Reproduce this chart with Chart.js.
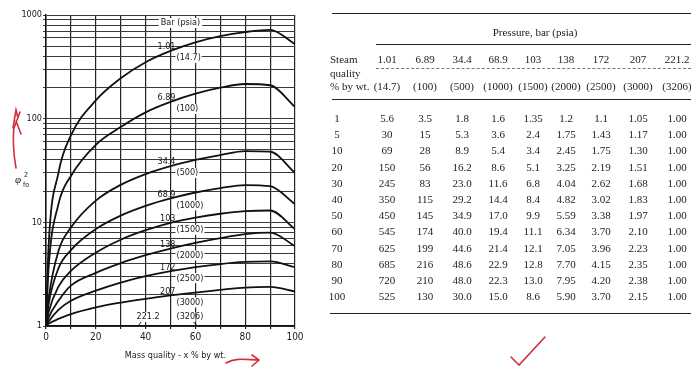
<!DOCTYPE html>
<html>
<head>
<meta charset="utf-8">
<script src="https://cdn.jsdelivr.net/npm/chart.js@4.4.1/dist/chart.umd.min.js"></script>
<style>
    body { margin: 0; background: #fff; }
    #wrap { position: relative; width: 691px; height: 370px; overflow: hidden; }
    #chart { position: absolute; left: 0; top: 0; }
    #table { position: absolute; left: 0; top: 0; width: 691px; height: 370px;
             font-family: "Liberation Serif", "Times New Roman", serif; font-size: 11px; color: #1c1c1c; }
    #table span { position: absolute; white-space: nowrap; transform: translate(-50%, -50%); }
    #table span.left { transform: translate(0, -50%); }
    #table .rule { position: absolute; height: 0; border-top: 1.5px solid #222; }
    #table .dash { position: absolute; height: 0; border-top: 1px dashed #777; }
</style>
</head>
<body>
<div id="wrap">
    <canvas id="chart" width="691" height="370"></canvas>
    <div id="table"></div>
</div>
<script>
// Pressure columns
const pressureBar = ['1.01', '6.89', '34.4', '68.9', '103', '138', '172', '207', '221.2'];
const pressurePsia = ['(14.7)', '(100)', '(500)', '(1000)', '(1500)', '(2000)', '(2500)', '(3000)', '(3206)'];

// Steam quality, % by wt. (table rows)
const qualities = [1, 5, 10, 20, 30, 40, 50, 60, 70, 80, 90, 100];

// phi^2_fo for each pressure, same order as qualities
const phi1_01 = ['5.6', '30', '69', '150', '245', '350', '450', '545', '625', '685', '720', '525'];
const phi6_89 = ['3.5', '15', '28', '56', '83', '115', '145', '174', '199', '216', '210', '130'];
const phi34_4 = ['1.8', '5.3', '8.9', '16.2', '23.0', '29.2', '34.9', '40.0', '44.6', '48.6', '48.0', '30.0'];
const phi68_9 = ['1.6', '3.6', '5.4', '8.6', '11.6', '14.4', '17.0', '19.4', '21.4', '22.9', '22.3', '15.0'];
const phi103 = ['1.35', '2.4', '3.4', '5.1', '6.8', '8.4', '9.9', '11.1', '12.1', '12.8', '13.0', '8.6'];
const phi138 = ['1.2', '1.75', '2.45', '3.25', '4.04', '4.82', '5.59', '6.34', '7.05', '7.70', '7.95', '5.90'];
const phi172 = ['1.1', '1.43', '1.75', '2.19', '2.62', '3.02', '3.38', '3.70', '3.96', '4.15', '4.20', '3.70'];
const phi207 = ['1.05', '1.17', '1.30', '1.51', '1.68', '1.83', '1.97', '2.10', '2.23', '2.35', '2.38', '2.15'];
const phi221_2 = ['1.00', '1.00', '1.00', '1.00', '1.00', '1.00', '1.00', '1.00', '1.00', '1.00', '1.00', '1.00'];

const allSeries = [phi1_01, phi6_89, phi34_4, phi68_9, phi103, phi138, phi172, phi207, phi221_2];

// every curve starts from phi^2 = 1 at zero quality
const originQuality = 0;
const originValue = 1;

// axis ticks
const yTickLabels = [1, 10, 100, 1000];
const xTickLabels = [0, 20, 40, 60, 80, 100];

// log grid: 1..9 in every decade
const yGrid = [];
yTickLabels.slice(0, -1).forEach(d => {
    for (let m = 1; m < 10; m++) yGrid.push(d * m);
});
yGrid.push(1000);

const sans = '"Liberation Sans Narrow", "DejaVu Sans Condensed", "Liberation Sans", sans-serif';
const ink = '#1a1a1a';
const red = '#d2303c';

const datasets = allSeries.map((s, i) => ({
    label: pressureBar[i],
    data: [{ x: originQuality, y: originValue }].concat(qualities.map((q, k) => ({ x: q, y: Number(s[k]) }))),
    borderColor: '#111',
    borderWidth: 1.8,
    pointRadius: 0,
    cubicInterpolationMode: 'monotone',
    fill: false
}));

// labels on the curves, white boxes, axis titles and the red pen marks
const annotations = {
    id: 'annotations',
    afterDatasetsDraw(chart) {
        const { ctx, scales: { x, y } } = chart;
        ctx.save();
        ctx.fillStyle = ink;
        ctx.font = '9px ' + sans;
        ctx.textBaseline = 'middle';

        const at50 = qualities.indexOf(50);
        const xp = x.getPixelForValue(50);
        for (let i = 0; i < 8; i++) {
            const yp = y.getPixelForValue(Number(allSeries[i][at50]));
            ctx.textAlign = 'right';
            ctx.fillText(pressureBar[i], xp + 5, yp - 4);
            const w = ctx.measureText(pressurePsia[i]).width;
            ctx.fillStyle = '#fff';
            ctx.fillRect(xp + 5, yp + 2, w + 2, 10);
            ctx.fillStyle = ink;
            ctx.textAlign = 'left';
            ctx.fillText(pressurePsia[i], xp + 6, yp + 7);
        }

        // 221.2 bar lies on the bottom axis
        const yb = y.getPixelForValue(1);
        const xa = x.getPixelForValue(41);
        const xb = x.getPixelForValue(52);
        ctx.fillStyle = '#fff';
        ctx.fillRect(xa - 9, yb - 14, 18, 10);
        ctx.fillRect(xb, yb - 14, 20, 10);
        ctx.fillStyle = ink;
        ctx.textAlign = 'center';
        ctx.fillText(pressureBar[8], xa, yb - 9);
        ctx.textAlign = 'left';
        ctx.fillText(pressurePsia[8], xb + 1, yb - 9);
        ctx.strokeStyle = ink;
        ctx.lineWidth = 1;
        ctx.beginPath();
        ctx.moveTo(xa - 7, yb - 4); ctx.lineTo(xa - 10, yb);
        ctx.moveTo(xb + 18, yb - 4); ctx.lineTo(xb + 22, yb);
        ctx.stroke();

        // "Bar (psia)" heading
        const xh = x.getPixelForValue(54);
        const yh = y.getPixelForValue(1000) + 8;
        ctx.font = '9px ' + sans;
        const hw = ctx.measureText('Bar (psia)').width;
        ctx.fillStyle = '#fff';
        ctx.fillRect(xh - hw / 2 - 2, yh - 5, hw + 4, 10);
        ctx.fillStyle = ink;
        ctx.textAlign = 'center';
        ctx.fillText('Bar (psia)', xh, yh);

        // axis titles
        ctx.font = '9px ' + sans;
        ctx.fillText('Mass quality - x % by wt.', x.getPixelForValue(52), 356);
        ctx.font = 'italic 11px "Liberation Serif", serif';
        ctx.textAlign = 'left';
        ctx.fillText('\u03C6', 15, 180);
        ctx.font = '7px ' + sans;
        ctx.fillText('2', 24, 175);
        ctx.fillText('fo', 23, 185);

        // red pen marks
        ctx.strokeStyle = red;
        ctx.lineWidth = 1.6;
        ctx.lineCap = 'round';
        ctx.beginPath();
        ctx.moveTo(16, 168);
        ctx.quadraticCurveTo(12, 145, 14, 126);
        ctx.moveTo(13, 128); ctx.lineTo(16, 110); ctx.lineTo(18, 118);
        ctx.moveTo(20, 112); ctx.lineTo(14, 128);
        ctx.moveTo(16, 121); ctx.lineTo(21, 134);
        ctx.moveTo(226, 363);
        ctx.bezierCurveTo(236, 357, 248, 360, 259, 360);
        ctx.moveTo(252, 355); ctx.lineTo(259, 360); ctx.lineTo(252, 366);
        ctx.moveTo(511, 357); ctx.lineTo(519, 365); ctx.lineTo(545, 337);
        ctx.stroke();
        ctx.restore();
    }
};

new Chart(document.getElementById('chart'), {
    type: 'line',
    data: { datasets },
    options: {
        responsive: false,
        animation: false,
        layout: { padding: { top: 15, right: 396, left: 0, bottom: 0 } },
        plugins: { legend: { display: false }, tooltip: { enabled: false } },
        scales: {
            x: {
                type: 'linear',
                min: 0,
                max: 100,
                afterFit: s => { s.height = 44; },
                ticks: {
                    stepSize: 10,
                    autoSkip: false,
                    maxRotation: 0,
                    padding: 2,
                    color: ink,
                    font: { family: sans, size: 10 },
                    callback: v => xTickLabels.includes(v) ? v : ''
                },
                grid: { color: '#222', lineWidth: 1.2, tickLength: 3 },
                border: { color: '#111', width: 1.5 }
            },
            y: {
                type: 'logarithmic',
                min: 1,
                max: 1000,
                afterFit: s => { s.width = 46; },
                afterBuildTicks: s => { s.ticks = yGrid.map(v => ({ value: v })); },
                ticks: {
                    autoSkip: false,
                    padding: 1,
                    color: ink,
                    font: { family: sans, size: 9 },
                    callback: v => yTickLabels.includes(v) ? String(v) : ''
                },
                grid: { color: '#3a3a3a', lineWidth: 1, tickLength: 3 },
                border: { color: '#111', width: 1.5 }
            }
        }
    },
    plugins: [annotations]
});

// Table on the right
const table = document.getElementById('table');
const colX = [387, 425, 462, 498, 533, 566, 601, 638, 677];
const rowY = qualities.map((q, i) => 118 + i * 16.2);

function cell(text, x, y, left) {
    const span = document.createElement('span');
    span.textContent = text;
    if (left) span.className = 'left';
    span.style.left = x + 'px';
    span.style.top = y + 'px';
    table.appendChild(span);
}
function rule(x1, x2, y, cls) {
    const div = document.createElement('div');
    div.className = cls || 'rule';
    div.style.left = x1 + 'px';
    div.style.width = (x2 - x1) + 'px';
    div.style.top = y + 'px';
    table.appendChild(div);
}

rule(332, 691, 13);
cell('Pressure, bar (psia)', 535, 32);
rule(376, 691, 44);
cell('Steam', 330, 59, true);
cell('quality', 330, 73, true);
cell('% by wt.', 330, 86, true);
pressureBar.forEach((p, i) => cell(p, colX[i], 59));
rule(376, 691, 68, 'dash');
pressurePsia.forEach((p, i) => cell(p, colX[i], 86));
rule(332, 691, 99);

qualities.forEach((q, r) => {
    cell(String(q), 337, rowY[r]);
    allSeries.forEach((s, c) => cell(s[r], colX[c], rowY[r]));
});
rule(330, 691, 313);
</script>
</body>
</html>
